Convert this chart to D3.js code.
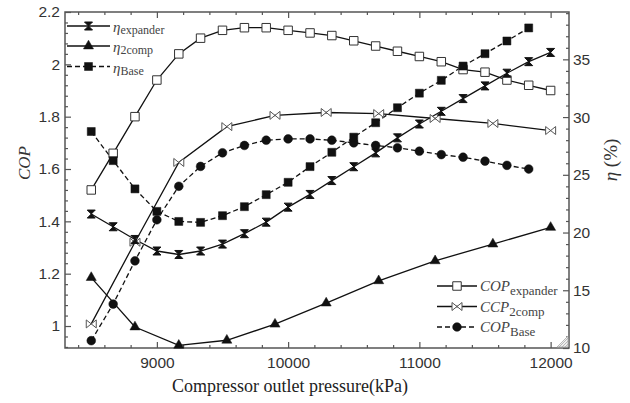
<!DOCTYPE html>
<html><head><meta charset="utf-8">
<script src="https://cdn.jsdelivr.net/npm/d3@7"></script>
<style>
html,body{margin:0;padding:0;background:#fff;}
svg{display:block;}
.tick text{font-family:"Liberation Sans",Arial,sans-serif;font-size:15.5px;fill:#333;}
</style></head>
<body>
<svg id="chart" width="630" height="403"></svg>
<script>
// ---- data ----
const pressure = [8500, 8667, 8833, 9000, 9167, 9333, 9500, 9667, 9833, 10000, 10167, 10333, 10500, 10667, 10833, 11000, 11167, 11333, 11500, 11667, 11833, 12000];
const copExpander = [1.52, 1.66, 1.80, 1.94, 2.04, 2.10, 2.13, 2.14, 2.14, 2.13, 2.12, 2.11, 2.09, 2.07, 2.05, 2.03, 2.01, 1.98, 1.97, 1.94, 1.92, 1.90];
const etaExpander = [21.6, 20.5, 19.4, 18.4, 18.1, 18.4, 19.0, 19.9, 20.9, 22.2, 23.3, 24.5, 25.7, 26.9, 28.2, 29.4, 30.5, 31.6, 32.7, 33.8, 34.8, 35.6];
const pressureBase = [8500, 8667, 8833, 9000, 9167, 9333, 9500, 9667, 9833, 10000, 10167, 10333, 10500, 10667, 10833, 11000, 11167, 11333, 11500, 11667, 11833];
const copBase = [0.944, 1.084, 1.249, 1.406, 1.534, 1.610, 1.662, 1.690, 1.710, 1.715, 1.715, 1.710, 1.700, 1.690, 1.681, 1.668, 1.655, 1.645, 1.630, 1.614, 1.600];
const etaBase = [28.75, 26.23, 23.78, 21.83, 20.96, 20.88, 21.46, 22.24, 23.28, 24.35, 25.71, 26.95, 28.26, 29.51, 30.81, 32.07, 33.18, 34.42, 35.49, 36.59, 37.72];
const pressure2comp = [8500, 8833, 9167, 9533, 9900, 10290, 10690, 11120, 11560, 12000];
const cop2comp = [1.008, 1.32, 1.625, 1.762, 1.805, 1.816, 1.812, 1.793, 1.774, 1.747];
const eta2comp = [16.1, 11.82, 10.23, 10.67, 12.06, 13.89, 15.82, 17.55, 19.0, 20.44];
const xTicks = [9000, 10000, 11000, 12000];
const copTicks = [1, 1.2, 1.4, 1.6, 1.8, 2, 2.2];
const etaTicks = [10, 15, 20, 25, 30, 35];

// ---- layout ----
const L = 65, R = 569, T = 12, B = 348;
const svg = d3.select("#chart");
const x = d3.scaleLinear().domain([8300, 12140]).range([L, R]);
const yL = d3.scaleLinear().domain([0.916, 2.2]).range([B, T]);
const yR = d3.scaleLinear().domain([10, 39.1]).range([B, T]);

const axisColor = "#555";
function styleAxis(g){
  g.select(".domain").remove();
  g.selectAll(".tick line").attr("stroke", axisColor).attr("stroke-width", 1.2);
}
const xMinor = d3.range(8400, 12101, 200).filter(v => v % 1000 !== 0);
const copMinor = d3.range(0.92, 2.2, 0.04).map(v => +v.toFixed(2)).filter(v => Math.abs(v*5 - Math.round(v*5)) > 1e-6);
const etaMinor = d3.range(11, 39.01, 1).filter(v => v % 5 !== 0);

// bottom
svg.append("g").attr("transform", `translate(0,${B})`)
  .call(d3.axisBottom(x).tickValues(xTicks).tickSize(-6).tickPadding(9).tickFormat(d3.format("d"))).call(styleAxis);
svg.append("g").attr("transform", `translate(0,${B})`)
  .call(d3.axisBottom(x).tickValues(xMinor).tickSize(-3).tickFormat("")).call(styleAxis);
// top
svg.append("g").attr("transform", `translate(0,${T})`)
  .call(d3.axisTop(x).tickValues(xTicks).tickSize(-6).tickFormat("")).call(styleAxis);
svg.append("g").attr("transform", `translate(0,${T})`)
  .call(d3.axisTop(x).tickValues(xMinor).tickSize(-3).tickFormat("")).call(styleAxis);
// left
svg.append("g").attr("transform", `translate(${L},0)`)
  .call(d3.axisLeft(yL).tickValues(copTicks).tickSize(-6).tickPadding(5).tickFormat(d => String(+d.toFixed(1)))).call(styleAxis);
svg.append("g").attr("transform", `translate(${L},0)`)
  .call(d3.axisLeft(yL).tickValues(copMinor).tickSize(-3).tickFormat("")).call(styleAxis);
// right
svg.append("g").attr("transform", `translate(${R},0)`)
  .call(d3.axisRight(yR).tickValues(etaTicks).tickSize(-6).tickPadding(4)).call(styleAxis);
svg.append("g").attr("transform", `translate(${R},0)`)
  .call(d3.axisRight(yR).tickValues(etaMinor).tickSize(-3).tickFormat("")).call(styleAxis);

// frame
svg.append("rect").attr("x", L).attr("y", T).attr("width", R - L).attr("height", B - T)
  .attr("fill", "none").attr("stroke", axisColor).attr("stroke-width", 1.5);

// corner grip
const grip = svg.append("g").attr("stroke", "#aaa").attr("stroke-width", 0.8);
grip.append("path").attr("d", `M${R-12},${B-1}L${R-1},${B-12}L${R-1},${B-1}Z`).attr("fill", "#eee");
[4, 7, 10].forEach(k => grip.append("line").attr("x1", R-k).attr("y1", B-1).attr("x2", R-1).attr("y2", B-k));

// ---- markers ----
const sym = {
  openSquare: {d: d3.symbol(d3.symbolSquare, 72)(), fill: "#fff", stroke: "#333", sw: 1},
  filledSquare: {d: d3.symbol(d3.symbolSquare, 64)(), fill: "#111", stroke: "#111", sw: 0.5},
  circle: {d: d3.symbol(d3.symbolCircle, 60)(), fill: "#111", stroke: "#111", sw: 0.5},
  triangle: {d: d3.symbol(d3.symbolTriangle, 44)(), fill: "#111", stroke: "#111", sw: 0.5},
  hourglass: {d: "M-4,-4H4L-4,4H4Z", fill: "#111", stroke: "#111", sw: 1},
  bowtie: {d: "M-5,-4V4L5,-4V4Z", fill: "#fff", stroke: "#555", sw: 1}
};

const series = [
  {xs: pressure, ys: copExpander, scale: yL, dash: null, marker: "openSquare"},
  {xs: pressure2comp, ys: cop2comp, scale: yL, dash: null, marker: "bowtie"},
  {xs: pressureBase, ys: copBase, scale: yL, dash: "5,3", marker: "circle"},
  {xs: pressure, ys: etaExpander, scale: yR, dash: null, marker: "hourglass"},
  {xs: pressure2comp, ys: eta2comp, scale: yR, dash: null, marker: "triangle"},
  {xs: pressureBase, ys: etaBase, scale: yR, dash: "5,3", marker: "filledSquare"}
];

const plot = svg.append("g");
series.forEach(s => {
  const pts = s.xs.map((p, i) => [p, s.ys[i]]);
  const line = d3.line().x(d => x(d[0])).y(d => s.scale(d[1]));
  plot.append("path").datum(pts).attr("d", line).attr("fill", "none")
    .attr("stroke", "#111").attr("stroke-width", 1.3)
    .attr("stroke-dasharray", s.dash);
});
series.forEach(s => {
  const m = sym[s.marker];
  const pts = s.xs.map((p, i) => [p, s.ys[i]]);
  plot.selectAll(null).data(pts).join("path")
    .attr("transform", d => `translate(${x(d[0])},${s.scale(d[1])})`)
    .attr("d", m.d).attr("fill", m.fill).attr("stroke", m.stroke).attr("stroke-width", m.sw);
});

// ---- legends ----
const serif = '"Liberation Serif","Times New Roman",serif';
function legendRow(x0, x1, y, s, main, sub, mainSize, subSize, textDy, subDy, italicMain){
  const m = sym[s.marker];
  svg.append("line").attr("x1", x0).attr("x2", x1).attr("y1", y).attr("y2", y)
    .attr("stroke", "#111").attr("stroke-width", 1.3).attr("stroke-dasharray", s.dash);
  svg.append("path").attr("transform", `translate(${(x0+x1)/2},${y})`)
    .attr("d", m.d).attr("fill", m.fill).attr("stroke", m.stroke).attr("stroke-width", m.sw);
  const t = svg.append("text").attr("x", x1 + 3).attr("y", y + textDy)
    .attr("font-family", serif).attr("fill", "#444");
  t.append("tspan").attr("font-size", mainSize).attr("font-style", italicMain ? "italic" : null).text(main);
  t.append("tspan").attr("font-size", subSize).attr("dy", subDy).text(sub);
}
legendRow(67, 110, 26, series[3], "η", "expander", 15, 12, 6, 2, true);
legendRow(67, 110, 46, series[4], "η", "2comp", 15, 12, 6, 2, true);
legendRow(67, 110, 66.5, series[5], "η", "Base", 15, 12, 6, 2, true);

legendRow(437, 477, 286, series[0], "COP", "expander", 15, 13, 5, 4, true);
legendRow(437, 477, 306.5, series[1], "CCP", "2comp", 15, 13, 5, 4, true);
legendRow(437, 477, 327, series[2], "COP", "Base", 15, 13, 5, 4, true);

// ---- axis titles ----
svg.append("text").attr("x", 290).attr("y", 392).attr("text-anchor", "middle")
  .attr("font-family", serif).attr("font-size", 18).attr("fill", "#222")
  .text("Compressor outlet pressure(kPa)");
svg.append("text").attr("transform", "translate(30,163) rotate(-90)").attr("text-anchor", "middle")
  .attr("font-family", serif).attr("font-size", 17).attr("font-style", "italic").attr("fill", "#333")
  .text("COP");
svg.append("text").attr("transform", "translate(617,160) rotate(-90)").attr("text-anchor", "middle")
  .attr("font-family", serif).attr("font-size", 19).attr("fill", "#333")
  .html('<tspan font-style="italic">η</tspan> (%)');
</script>
</body></html>
